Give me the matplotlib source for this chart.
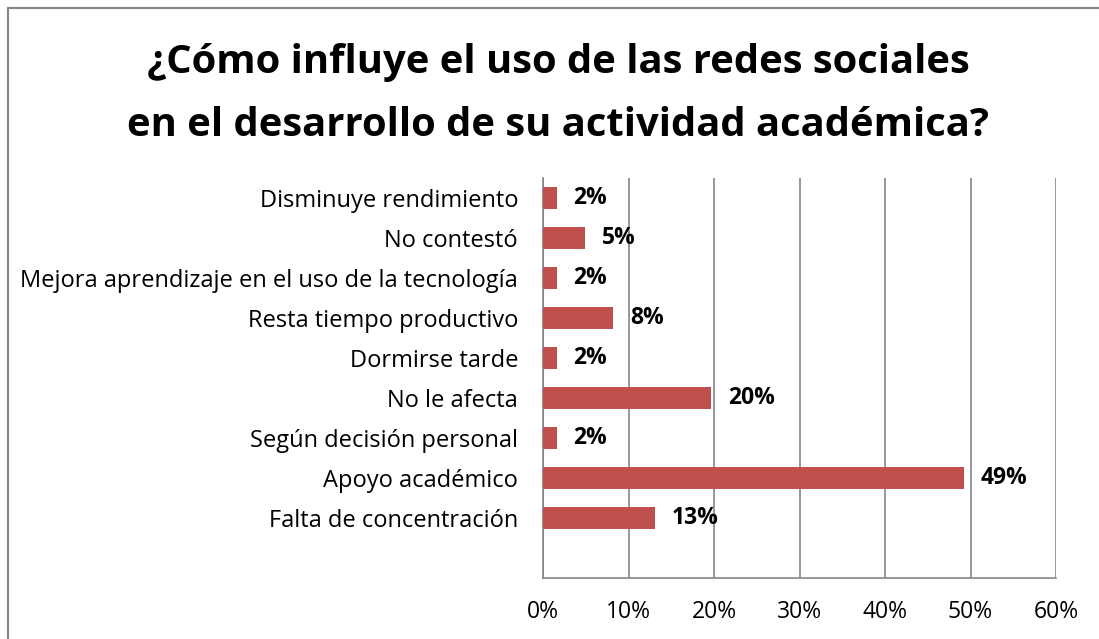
import matplotlib.pyplot as plt
from matplotlib.lines import Line2D

# survey answers, top to bottom as shown in the chart
categories = [
    "Disminuye rendimiento",
    "No contestó",
    "Mejora aprendizaje en el uso de la tecnología",
    "Resta tiempo productivo",
    "Dormirse tarde",
    "No le afecta",
    "Según decisión personal",
    "Apoyo académico",
    "Falta de concentración",
]
values = [1.6, 4.9, 1.6, 8.2, 1.6, 19.7, 1.6, 49.2, 13.1]
xticks = [0, 10, 20, 30, 40, 50, 60]

plt.rcParams['font.family'] = ['Open Sans', 'DejaVu Sans']

fig = plt.figure(figsize=(10.99, 6.39), dpi=100)
ax = fig.add_axes([543 / 1099, 1 - 578 / 639, 513 / 1099, 400 / 639])

ypos = [len(categories) - i for i in range(len(categories))]
bars = ax.barh(ypos, values, height=0.55, color='#C0504D', zorder=3)

for b, v in zip(bars, values):
    ax.annotate(f"{v:.0f}%", (b.get_width(), b.get_y() + b.get_height() / 2),
                xytext=(12, 0), textcoords='offset points', va='center', ha='left',
                fontsize=16.5, fontweight='bold', zorder=4)

ax.set_xlim(0, 60)
ax.set_ylim(-0.5, len(categories) + 0.5)
ax.set_xticks(xticks)
ax.set_xticklabels([f"{t}%" for t in xticks], fontsize=16.5)
ax.set_yticks(ypos)
ax.set_yticklabels(categories, fontsize=17)
ax.tick_params(axis='x', length=0, pad=16)
ax.tick_params(axis='y', length=0, pad=18)
ax.xaxis.grid(True, color='#868686', linewidth=1.2, zorder=0)

for s in ['top', 'right']:
    ax.spines[s].set_visible(False)
for s in ['left', 'bottom']:
    ax.spines[s].set_color('#868686')
    ax.spines[s].set_linewidth(1.2)

fig.text(558 / 1099, 1 - 62 / 639, "¿Cómo influye el uso de las redes sociales",
         ha='center', va='center', fontsize=28.8, fontweight='bold')
fig.text(558 / 1099, 1 - 125 / 639, "en el desarrollo de su actividad académica?",
         ha='center', va='center', fontsize=28.8, fontweight='bold')

# outer chart border (only left and top edges are in view)
fig.add_artist(Line2D([8 / 1099, 8 / 1099], [0, 1 - 8 / 639], color='#868686', linewidth=1.5))
fig.add_artist(Line2D([8 / 1099, 1], [1 - 8 / 639, 1 - 8 / 639], color='#868686', linewidth=1.5))

fig.savefig('out.png', dpi=100)
